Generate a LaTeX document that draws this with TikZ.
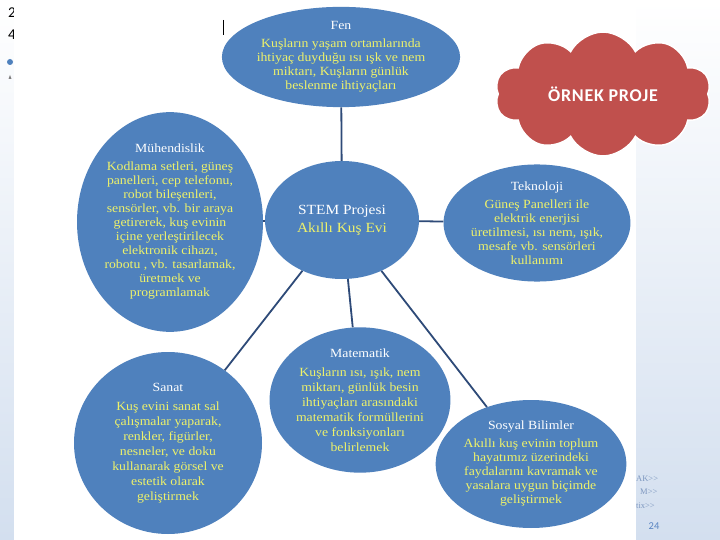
\documentclass[tikz,border=0pt]{standalone}
\usepackage{fontspec}
\setmainfont[FakeStretch=1.1]{Liberation Serif}
\newfontfamily\slidefont{Carlito}
\newfontfamily\cloudfont[LetterSpace=4]{Carlito}
\newfontfamily\remnantfont[Ligatures=NoCommon]{Liberation Serif}
\usetikzlibrary{shapes.geometric, shapes.symbols}
\definecolor{disc}{HTML}{4F81BD}
\definecolor{link}{HTML}{2E4A78}
\definecolor{lemon}{HTML}{EEF26A}
\definecolor{cloudred}{HTML}{C0504D}
\definecolor{slide}{HTML}{D3DFEF}
\definecolor{faint}{HTML}{7F98C0}
\definecolor{pagenum}{HTML}{5B85C2}
\newcommand{\areatitle}[1]{\textcolor{white}{#1}\\[4pt]}

\begin{document}
\begin{tikzpicture}[x=1pt, y=-1pt,
    area/.style={ellipse, fill=disc, inner sep=0pt, align=center, text=lemon,
      font=\fontsize{12.5}{14}\selectfont},
    tie/.style={draw=link, line width=1.8pt},
    remnant/.style={anchor=west, inner sep=0pt, text=faint, font=\remnantfont\fontsize{8.5}{9}\selectfont}]

  % slide behind the picture
  \fill[top color=white, bottom color=slide] (0,0) rectangle (720,540);
  \node[remnant] (r1) at (636,479) {AK>{}>};
  \node[remnant] (r2) at (640,492) {M>{}>};
  \node[remnant] (r3) at (636,506) {tix>{}>};
  \node[inner sep=0pt, text=pagenum, font=\slidefont\fontsize{10.5}{11}\selectfont] (page) at (654,526) {24};
  \node[inner sep=0pt, font=\slidefont\fontsize{15}{16}\selectfont] (t1) at (12,13) {2};
  \node[inner sep=0pt, font=\slidefont\fontsize{15}{16}\selectfont] (t2) at (12,35) {4};
  \fill[disc] (10,62) circle (3);
  \fill[gray] (8.5,79) -- (11.5,79) -- (10,75) -- cycle;

  % the picture
  \fill[white] (14,0) rectangle (636,540);
  \draw[black, line width=0.8pt] (223,20) -- (223,35);

  \node[area, minimum width=236, minimum height=100] (fen) at (341,57)
    {\areatitle{Fen}Kuşların yaşam ortamlarında\\ihtiyaç duyduğu ısı ışk ve nem\\miktarı, Kuşların günlük\\beslenme ihtiyaçları};
  \node[area, minimum width=186, minimum height=196] (muh) at (170,222)
    {\areatitle{Mühendislik}Kodlama setleri, güneş\\panelleri, cep telefonu,\\robot bileşenleri,\\sensörler, vb. bir araya\\getirerek, kuş evinin\\içine yerleştirilecek\\elektronik cihazı,\\robotu , vb. tasarlamak,\\üretmek ve\\programlamak};
  \node[area, minimum width=154, minimum height=118, font=\fontsize{14}{18}\selectfont] (stem) at (342,220)
    {\textcolor{white}{STEM Projesi}\\Akıllı Kuş Evi};
  \node[area, minimum width=163, minimum height=100] (tek) at (537,223)
    {\areatitle{Teknoloji}Güneş Panelleri ile\\elektrik enerjisi\\üretilmesi, ısı nem, ışık,\\mesafe vb. sensörleri\\kullanımı};
  \node[area, minimum width=188, minimum height=182, font=\fontsize{12.5}{15}\selectfont] (sanat) at (168,443)
    {\areatitle{Sanat}Kuş evini sanat sal\\çalışmalar yaparak,\\renkler, figürler,\\nesneler, ve doku\\kullanarak görsel ve\\estetik olarak\\geliştirmek};
  \node[area, minimum width=180, minimum height=140, font=\fontsize{12.5}{15}\selectfont] (mat) at (360,400)
    {\areatitle{Matematik}Kuşların ısı, ışık, nem\\miktarı, günlük besin\\ihtiyaçları arasındaki\\matematik formüllerini\\ve fonksiyonları\\belirlemek};
  \node[area, minimum width=184, minimum height=128] (sosyal) at (531,464)
    {\areatitle{Sosyal Bilimler}Akıllı kuş evinin toplum\\hayatımız üzerindeki\\faydalarını kavramak ve\\yasalara uygun biçimde\\geliştirmek};

  \draw[tie] (fen) -- (stem);
  \draw[tie] (muh) -- (stem);
  \draw[tie] (stem) -- (tek);
  \draw[tie] (stem) -- (sanat);
  \draw[tie] (stem) -- (mat);
  \draw[tie] (stem) -- (sosyal);

  \node[cloud, cloud puffs=10, cloud puff arc=125, aspect=1.75, fill=cloudred, draw=white, line width=1.5pt,
    minimum width=216, minimum height=124, text=white,
    font=\cloudfont\bfseries\fontsize{18}{19}\selectfont] (ornek) at (603,94) {ÖRNEK PROJE};
\end{tikzpicture}
\end{document}
